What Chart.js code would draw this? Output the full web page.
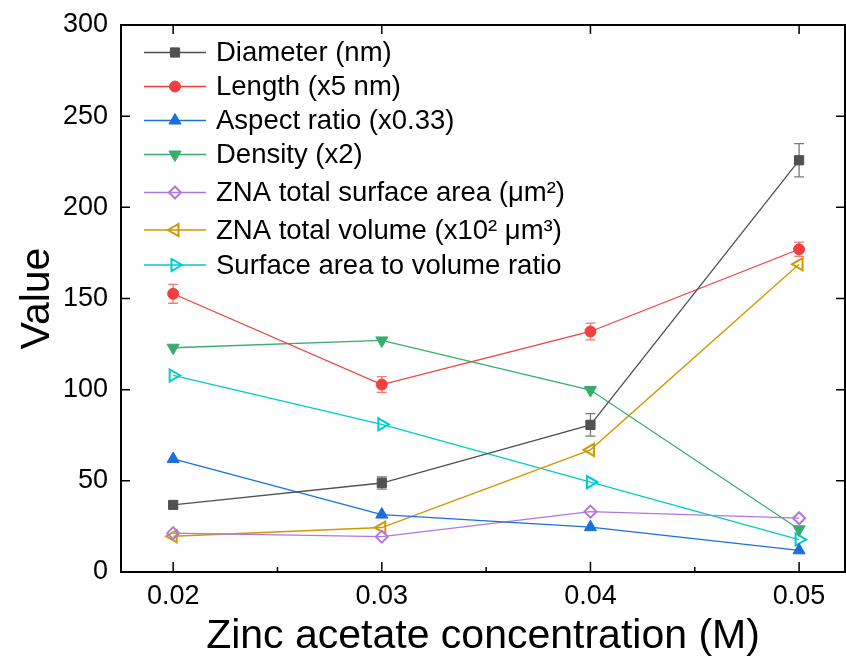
<!DOCTYPE html>
<html>
<head>
<meta charset="utf-8">
<script src="https://cdn.jsdelivr.net/npm/chart.js@4.4.1/dist/chart.umd.min.js"></script>
<style>
  html, body { margin: 0; padding: 0; background: #fff; }
</style>
</head>
<body>
<canvas id="c" width="846" height="661"></canvas>
<script>
// values
const conc = [0.02, 0.03, 0.04, 0.05];
const diameter = [36.8, 48.8, 80.7, 225.8];
const diameterErr = [1.8, 3.3, 6.2, 9.1];
const lengthX5 = [152.6, 102.8, 131.9, 177.0];
const lengthErr = [5.2, 4.3, 4.6, 3.9];
const aspectRatio = [62.0, 31.5, 24.6, 11.9];
const densityX2 = [123.0, 127.0, 99.8, 23.4];
const surfaceArea = [21.3, 19.4, 33.1, 29.5];
const totalVolume = [19.6, 24.4, 67.0, 168.8];
const saToVolume = [107.8, 81.0, 49.3, 17.8];

const xTicks = [0.02, 0.03, 0.04, 0.05];
const xMinorTicks = [0.025, 0.035, 0.045];
const yTicks = [0, 50, 100, 150, 200, 250, 300];
const seriesNames = [
  'Diameter (nm)',
  'Length (x5 nm)',
  'Aspect ratio (x0.33)',
  'Density (x2)',
  'ZNA total surface area (\u03bcm\u00b2)',
  'ZNA total volume (x10\u00b2 \u03bcm\u00b3)',
  'Surface area to volume ratio'
];

const FONT = '"Liberation Sans", Arial, sans-serif';

function pts(vals) {
  return conc.map((c, i) => ({ x: c, y: vals[i] }));
}

function series(i, vals, color, style, rot, open, radius) {
  return {
    label: seriesNames[i],
    data: pts(vals),
    borderColor: color,
    borderWidth: 1.3,
    pointStyle: style,
    pointRotation: rot,
    pointRadius: radius,
    pointHoverRadius: radius,
    pointBackgroundColor: open ? 'rgba(255,255,255,0)' : color,
    pointBorderColor: color,
    pointBorderWidth: open ? 2 : 1,
    fill: false,
    tension: 0
  };
}

const datasets = [
  series(0, diameter, '#515151', 'rect', 0, false, 6.5),
  series(1, lengthX5, '#f14040', 'circle', 0, false, 5.5),
  series(2, aspectRatio, '#1a6fdf', 'triangle', 0, false, 7),
  series(3, densityX2, '#37ad6b', 'triangle', 180, false, 7),
  series(4, surfaceArea, '#b177de', 'rectRot', 0, true, 6),
  series(5, totalVolume, '#cc9900', 'triangle', 270, true, 7),
  series(6, saToVolume, '#00cbcc', 'triangle', 90, true, 7)
];

const errorSets = [
  { ds: 0, err: diameterErr, color: '#7a7a7a' },
  { ds: 1, err: lengthErr, color: '#f77a7a' }
];

// error bars behind the markers
const errorBars = {
  id: 'errorBars',
  beforeDatasetsDraw(chart) {
    const ctx = chart.ctx;
    const xs = chart.scales.x, ys = chart.scales.y;
    ctx.save();
    ctx.lineWidth = 1.3;
    errorSets.forEach(e => {
      const vals = chart.data.datasets[e.ds].data;
      ctx.strokeStyle = e.color;
      vals.forEach((p, i) => {
        const px = xs.getPixelForValue(p.x);
        const top = ys.getPixelForValue(p.y + e.err[i]);
        const bot = ys.getPixelForValue(p.y - e.err[i]);
        ctx.beginPath();
        ctx.moveTo(px, top); ctx.lineTo(px, bot);
        ctx.moveTo(px - 5, top); ctx.lineTo(px + 5, top);
        ctx.moveTo(px - 5, bot); ctx.lineTo(px + 5, bot);
        ctx.stroke();
      });
    });
    ctx.restore();
  }
};

// box frame with inward ticks
const frame = {
  id: 'frame',
  afterDatasetsDraw(chart) {
    const ctx = chart.ctx;
    const a = chart.chartArea;
    const xs = chart.scales.x, ys = chart.scales.y;
    ctx.save();
    ctx.strokeStyle = '#000';
    ctx.lineWidth = 2;
    ctx.strokeRect(a.left, a.top, a.right - a.left, a.bottom - a.top);
    ctx.lineWidth = 1.5;
    ctx.beginPath();
    xTicks.forEach(v => {
      const px = xs.getPixelForValue(v);
      ctx.moveTo(px, a.bottom); ctx.lineTo(px, a.bottom - 10);
      ctx.moveTo(px, a.top); ctx.lineTo(px, a.top + 9);
    });
    xMinorTicks.forEach(v => {
      const px = xs.getPixelForValue(v);
      ctx.moveTo(px, a.bottom); ctx.lineTo(px, a.bottom - 5);
    });
    yTicks.forEach(v => {
      const py = ys.getPixelForValue(v);
      ctx.moveTo(a.left, py); ctx.lineTo(a.left + 9, py);
      ctx.moveTo(a.right, py); ctx.lineTo(a.right - 9, py);
    });
    ctx.stroke();
    ctx.restore();
  }
};

// legend inside the plot, top left
const legendBox = {
  id: 'legendBox',
  afterDraw(chart) {
    const ctx = chart.ctx;
    const rowY = [52.5, 86.5, 120.5, 154.5, 192.5, 230, 265];
    ctx.save();
    ctx.font = '27.5px ' + FONT;
    ctx.textBaseline = 'middle';
    ctx.textAlign = 'left';
    chart.data.datasets.forEach((ds, i) => {
      const y = rowY[i];
      ctx.strokeStyle = ds.borderColor;
      ctx.lineWidth = 1.3;
      ctx.beginPath();
      ctx.moveTo(144, y); ctx.lineTo(206, y);
      ctx.stroke();
      ctx.fillStyle = ds.pointBackgroundColor;
      ctx.strokeStyle = ds.pointBorderColor;
      ctx.lineWidth = ds.pointBorderWidth;
      Chart.helpers.drawPoint(ctx, {
        pointStyle: ds.pointStyle,
        rotation: ds.pointRotation,
        radius: ds.pointRadius,
        borderWidth: ds.pointBorderWidth
      }, 175, y);
      ctx.fillStyle = '#000';
      ctx.fillText(ds.label, 216, y + 1);
    });
    ctx.restore();
  }
};

new Chart(document.getElementById('c'), {
  type: 'line',
  data: { datasets: datasets },
  plugins: [errorBars, frame, legendBox],
  options: {
    responsive: false,
    animation: false,
    layout: { autoPadding: false, padding: { top: 25, right: 1, left: 0, bottom: 0 } },
    plugins: {
      legend: { display: false },
      tooltip: { enabled: false }
    },
    scales: {
      x: {
        type: 'linear',
        min: 0.0175,
        max: 0.0522,
        afterFit: s => { s.height = 89; s.paddingLeft = 0; s.paddingRight = 0; },
        afterBuildTicks: s => { s.ticks = xTicks.map(v => ({ value: v })); },
        grid: { display: false, drawTicks: false },
        border: { display: false },
        ticks: {
          padding: 8,
          color: '#000',
          font: { family: FONT, size: 27 },
          callback: v => v.toFixed(2)
        },
        title: {
          display: true,
          text: 'Zinc acetate concentration (M)',
          color: '#000',
          font: { family: FONT, size: 41, lineHeight: 1.2 },
          padding: { top: 0, bottom: 0 }
        }
      },
      y: {
        min: 0,
        max: 300,
        afterFit: s => { s.width = 121; s.paddingTop = 0; s.paddingBottom = 0; },
        afterBuildTicks: s => { s.ticks = yTicks.map(v => ({ value: v })); },
        grid: { display: false, drawTicks: false },
        border: { display: false },
        ticks: {
          padding: 13,
          color: '#000',
          font: { family: FONT, size: 27 }
        },
        title: {
          display: true,
          text: 'Value',
          color: '#000',
          font: { family: FONT, size: 41, lineHeight: 1.2 },
          padding: { top: 13, bottom: 0 }
        }
      }
    }
  }
});
</script>
</body>
</html>
